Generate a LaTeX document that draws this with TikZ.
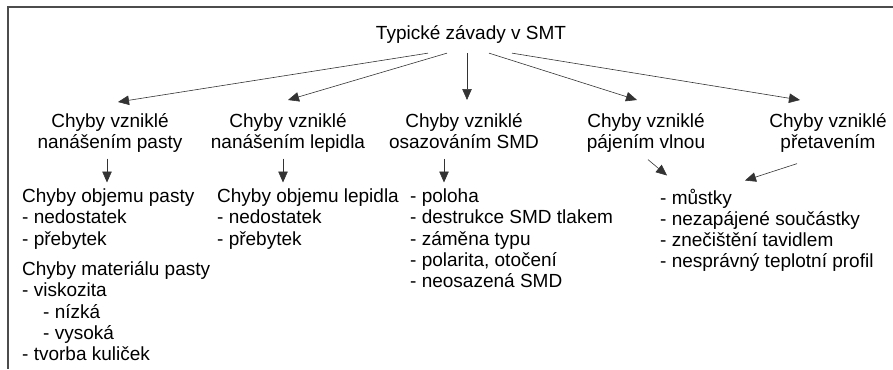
\documentclass[tikz,border=0pt]{standalone}
\usepackage{fontspec}
\setmainfont{Liberation Sans}
\usetikzlibrary{arrows.meta}

\tikzset{
  lbl/.style={font=\fontsize{19}{21.3}\selectfont, inner sep=0pt},
  cat/.style={lbl, align=center, anchor=north},
  lst/.style={lbl, align=left, anchor=north west},
  arr/.style={-{Triangle[length=11pt,width=9.5pt]}, line width=0.6pt, black!80}
}

\begin{document}
\begin{tikzpicture}[x=1pt, y=-1pt]
  \useasboundingbox (0,0) rectangle (893,369);

  % Frame
  \draw[line width=1.3pt, black!70] (893,7) -| (8,369);

  % Root
  \node[lbl, anchor=base] (root) at (471,40) {Typické závady v SMT};

  % Categories
  \node[cat] (pasta)  at (110,113) {Chyby vzniklé\\nanášením pasty};
  \node[cat] (lepidlo) at (288,113) {Chyby vzniklé\\nanášením lepidla};
  \node[cat] (osaz)   at (464,113) {Chyby vzniklé\\osazováním SMD};
  \node[cat] (vlna)   at (646,113) {Chyby vzniklé\\pájením vlnou};
  \node[cat] (pretav) at (828,113) {Chyby vzniklé\\přetavením};

  % Lists
  \node[lst] (objpasta) at (22,188.5)
    {Chyby objemu pasty\\- nedostatek\\- přebytek};
  \node[lst] (matpasta) at (22,261.5)
    {Chyby materiálu pasty\\- viskozita\\\hspace*{21pt}- nízká\\
     \hspace*{21pt}- vysoká\\- tvorba kuliček};
  \node[lst] (objlep) at (217,188.5)
    {Chyby objemu lepidla\\- nedostatek\\- přebytek};
  \node[lst] (osazlist) at (410,188.5)
    {- poloha\\- destrukce SMD tlakem\\- záměna typu\\- polarita, otočení\\- neosazená SMD};
  \node[lst] (pajlist) at (660,188.5)
    {- můstky\\- nezapájené součástky\\- znečištění tavidlem\\- nesprávný teplotní profil};

  % Root to categories
  \draw[arr] ([xshift=-43pt,yshift=-9pt]root.south) -- ([xshift=8pt,yshift=11pt]pasta.north);
  \draw[arr] ([xshift=-24pt,yshift=-9pt]root.south) -- ([yshift=13pt]lepidlo.north);
  \draw[arr] ([xshift=-4pt,yshift=-9pt]root.south) -- ([xshift=-4pt,yshift=13pt]root.south |- osaz.north);
  \draw[arr] ([xshift=18pt,yshift=-9pt]root.south) -- ([xshift=-9pt,yshift=13pt]vlna.north);
  \draw[arr] ([xshift=41pt,yshift=-9pt]root.south) -- ([xshift=-28pt,yshift=13pt]pretav.north);

  % Categories to lists
  \draw[arr] ([xshift=-3pt,yshift=-6pt]pasta.south) -- ([xshift=-3pt,yshift=6pt]pasta.south |- objpasta.north);
  \draw[arr] ([xshift=-5pt,yshift=-6pt]lepidlo.south) -- ([xshift=-5pt,yshift=6pt]lepidlo.south |- objlep.north);
  \draw[arr] ([xshift=-20pt,yshift=-10pt]osaz.south) -- ([xshift=-20pt,yshift=6pt]osaz.south |- osazlist.north);
  \draw[arr] ([xshift=2pt,yshift=-7pt]vlna.south) -- ([xshift=7pt,yshift=13pt]pajlist.north west);
  \draw[arr] ([xshift=-31pt,yshift=-11pt]pretav.south) -- ([xshift=85pt,yshift=8pt]pajlist.north west);

\end{tikzpicture}
\end{document}
